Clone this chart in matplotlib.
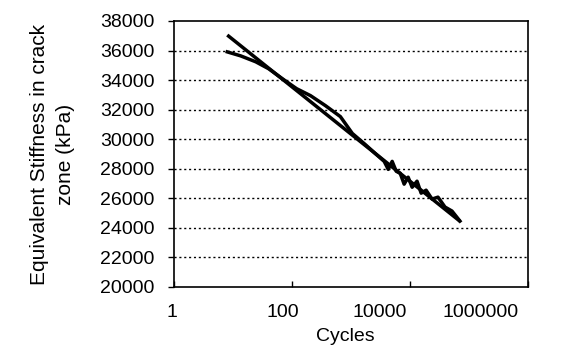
import matplotlib
matplotlib.use("Agg")
import matplotlib.pyplot as plt
from matplotlib.ticker import FixedLocator, NullFormatter

plt.rcParams['font.family'] = ['Liberation Sans', 'DejaVu Sans']

# measured stiffness vs cycles
cycles = [8, 13.5, 24.3, 40.2, 69, 120, 206, 370, 662, 1056, 1750, 2690, 3660,
          4290, 5000, 5850, 6830, 7980, 9330, 10900, 13200, 15500, 18800, 23700,
          29900, 39300, 51600, 70500]
stiffness = [35910, 35640, 35240, 34770, 34090, 33420, 32950, 32270, 31530, 30390,
             29640, 28970, 28500, 27960, 28500, 27830, 27700, 26960, 27430, 26750,
             27160, 26350, 26550, 25950, 26080, 25410, 25140, 24460]

# logarithmic trend line end points
trend_cycles = [8, 70500]
trend_stiffness = [37050, 24450]

xticks = [1, 100, 10000, 1000000]
xticklabels = ['1', '100', '10000', '1000000']
yticks = list(range(20000, 38001, 2000))

fig = plt.figure(figsize=(5.85, 3.62), dpi=100)
ax = fig.add_axes([0.2974, 0.2072, 0.605, 0.7348])

ax.plot(trend_cycles, trend_stiffness, color='black', lw=2.5, solid_capstyle='butt')
ax.plot(cycles, stiffness, color='black', lw=2.5)

ax.set_xscale('log')
ax.set_xlim(1, 1e6)
ax.set_ylim(20000, 38000)
ax.xaxis.set_major_locator(FixedLocator(xticks))
ax.xaxis.set_major_formatter(NullFormatter())
ax.xaxis.set_minor_locator(FixedLocator([]))
ax.set_yticks(yticks)
ax.set_yticklabels([str(v) for v in yticks])

for v in yticks[1:-1]:
    ax.axhline(v, color='black', lw=1.0, ls=(0, (1.5, 2)), zorder=0)

for s in ax.spines.values():
    s.set_linewidth(1.2)
    s.set_color('black')

ax.tick_params(axis='x', direction='in', length=4, width=1)
ax.tick_params(axis='y', direction='out', length=4, labelsize=14, pad=10, width=1)

# x tick labels: the scanned original shows them drifting left of their ticks
label_shift_pt = [-1.5, -6.5, -22, -34]
for t, lab, dx in zip(xticks, xticklabels, label_shift_pt):
    ax.annotate(lab, xy=(t, 0), xycoords=('data', 'axes fraction'),
                xytext=(dx, -18.5), textcoords='offset points',
                ha='center', va='center', fontsize=14, annotation_clip=False)

ax.set_xlabel('Cycles', fontsize=14)
ax.xaxis.set_label_coords(0.483, -0.155)
ax.set_ylabel('Equivalent Stiffness in crack\nzone (kPa)', fontsize=15,
              labelpad=18, linespacing=1.45)

fig.savefig('out.png', dpi=100)
